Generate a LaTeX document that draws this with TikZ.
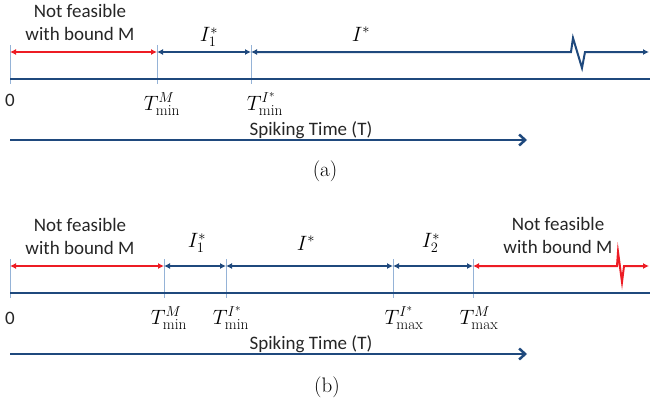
\documentclass[tikz,border=0pt]{standalone}
\usepackage{fontspec}
\setsansfont{Carlito}
\usetikzlibrary{arrows.meta}

\definecolor{axisblue}{RGB}{31,73,125}
\definecolor{badred}{RGB}{237,28,36}
\definecolor{tickblue}{RGB}{149,179,215}

\tikzset{
  spanblue/.style={axisblue, line width=2pt, {Latex[length=6pt,width=6pt]}-{Latex[length=6pt,width=6pt]}},
  spanred/.style={badred, line width=2pt, {Latex[length=6pt,width=6pt]}-{Latex[length=6pt,width=6pt]}},
  axisline/.style={axisblue, line width=2.5pt},
  timearrow/.style={axisblue, line width=2.5pt, -{Straight Barb[length=6pt,width=11pt]}},
  tickline/.style={tickblue, line width=1pt},
  sanslabel/.style={font=\sffamily\fontsize{19}{23}\selectfont, text=black!85, align=center, inner sep=0pt},
  mathlabel/.style={font=\fontsize{22}{26}\selectfont, inner sep=0pt},
  caplabel/.style={font=\fontsize{21}{25}\selectfont, inner sep=0pt}
}

\begin{document}
\begin{tikzpicture}[x=1pt, y=-1pt]
  \useasboundingbox (0,0) rectangle (650,410);

  % (a)
  \coordinate (a0) at (10,52);
  \coordinate (a1) at (157,52);
  \coordinate (a2) at (251,52);
  \coordinate (za) at (571,52);
  \coordinate (zb) at (585,52);
  \coordinate (a3) at (649,52);
  \coordinate (axa0) at (10,79);
  \coordinate (axa1) at (650,79);

  \draw[tickline] (a0) ++(0,-7) -- ++(0,39);
  \draw[tickline] (a1) ++(0,-7) -- ++(0,39);
  \draw[tickline] (a2) ++(0,-7) -- ++(0,39);

  \draw[spanred] (a0) -- (a1);
  \draw[spanblue] (a1) -- (a2);
  \draw[spanblue] (a2) -- (za) -- ++(2,-14) -- ++(9,30) -- (zb) -- (a3);
  \draw[axisline] (axa0) -- (axa1);

  \node[sanslabel] (nfa) at (80,22) {Not feasible\\with bound M};
  \node[mathlabel] (i1a) at (209,37) {$I_1^{*}$};
  \node[mathlabel] (ia) at (361,34) {$I^{*}$};
  \node[sanslabel] (za0) at (10,100) {0};
  \node[mathlabel] (tma) at (162,104) {$T^{M}_{\mathrm{min}}$};
  \node[mathlabel] (tia) at (265,104) {$T^{I^{*}}_{\mathrm{min}}$};

  \coordinate (sa0) at (10,140);
  \coordinate (sa1) at (527,140);
  \draw[timearrow] (sa0) -- (sa1);
  \node[sanslabel] (timea) at (311,130) {Spiking Time (T)};
  \node[caplabel] (capa) at (325,171) {(a)};

  % (b)
  \coordinate (b0) at (10,266);
  \coordinate (b1) at (164,266);
  \coordinate (b2) at (226,266);
  \coordinate (b3) at (393,266);
  \coordinate (b4) at (473,266);
  \coordinate (zc) at (617,266);
  \coordinate (zd) at (624,266);
  \coordinate (b5) at (649,266);
  \coordinate (axb0) at (10,293);
  \coordinate (axb1) at (650,293);

  \draw[tickline] (b0) ++(0,-7) -- ++(0,39);
  \draw[tickline] (b1) ++(0,-7) -- ++(0,39);
  \draw[tickline] (b2) ++(0,-7) -- ++(0,39);
  \draw[tickline] (b3) ++(0,-7) -- ++(0,39);
  \draw[tickline] (b4) ++(0,-7) -- ++(0,39);

  \draw[spanred] (b0) -- (b1);
  \draw[spanblue] (b1) -- (b2);
  \draw[spanblue] (b2) -- (b3);
  \draw[spanblue] (b3) -- (b4);
  \draw[spanred] (b4) -- (zc) -- ++(1,-14) -- ++(4,30) -- (zd) -- (b5);
  \draw[axisline] (axb0) -- (axb1);

  \node[sanslabel] (nfb) at (80,236) {Not feasible\\with bound M};
  \node[sanslabel] (nfc) at (558,235) {Not feasible\\with bound M};
  \node[mathlabel] (i1b) at (197,243) {$I_1^{*}$};
  \node[mathlabel] (ib) at (306,243) {$I^{*}$};
  \node[mathlabel] (i2b) at (431,243) {$I_2^{*}$};
  \node[sanslabel] (zb0) at (10,318) {0};
  \node[mathlabel] (tmb) at (169,318) {$T^{M}_{\mathrm{min}}$};
  \node[mathlabel] (tib) at (231,318) {$T^{I^{*}}_{\mathrm{min}}$};
  \node[mathlabel] (tjb) at (404,318) {$T^{I^{*}}_{\mathrm{max}}$};
  \node[mathlabel] (tnb) at (479,318) {$T^{M}_{\mathrm{max}}$};

  \coordinate (sb0) at (10,354);
  \coordinate (sb1) at (527,354);
  \draw[timearrow] (sb0) -- (sb1);
  \node[sanslabel] (timeb) at (311,344) {Spiking Time (T)};
  \node[caplabel] (capb) at (327,387) {(b)};
\end{tikzpicture}
\end{document}
